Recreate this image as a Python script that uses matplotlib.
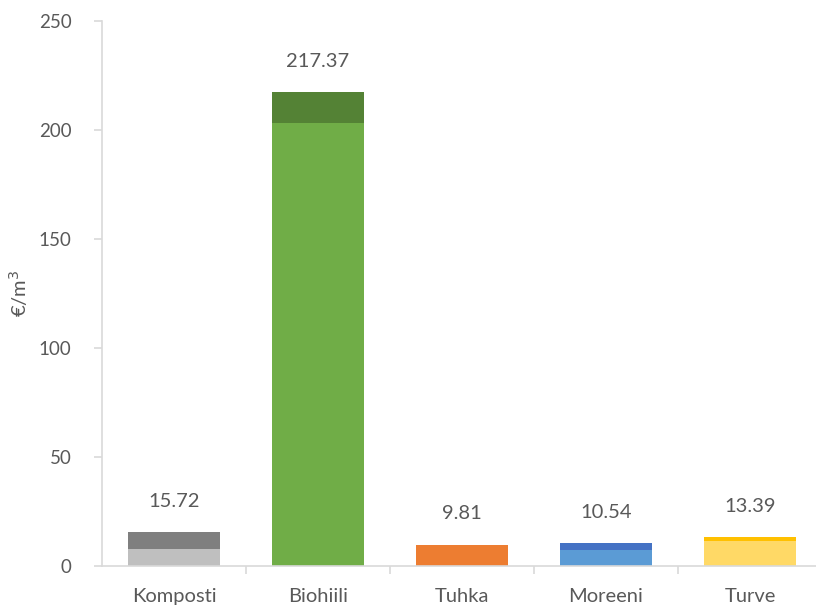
import matplotlib
matplotlib.use("Agg")
import matplotlib.pyplot as plt

categories = ["Komposti", "Biohiili", "Tuhka", "Moreeni", "Turve"]
lower_vals = [7.86, 203.4, 9.81, 7.5, 11.5]
upper_vals = [7.86, 13.97, 0.0, 3.04, 1.89]
totals = ["15.72", "217.37", "9.81", "10.54", "13.39"]
yticks = [0, 50, 100, 150, 200, 250]

lower_colors = ["#BFBFBF", "#70AD47", "#ED7D31", "#5B9BD5", "#FFD966"]
upper_colors = ["#7F7F7F", "#548235", "#ED7D31", "#4472C4", "#FFC000"]

plt.rcParams['font.family'] = ['Lato', 'DejaVu Sans']
txt = "#595959"
grid = "#D9D9D9"

fig = plt.figure(figsize=(8.16, 6.07), dpi=100)
ax = fig.add_axes([102/816, 1-566/607, 720/816, 545/607])

x = list(range(len(categories)))
ax.bar(x, lower_vals, width=0.64, color=lower_colors, edgecolor='none')
ax.bar(x, upper_vals, width=0.64, bottom=lower_vals, color=upper_colors, edgecolor='none')

for i, t in enumerate(totals):
    top = lower_vals[i] + upper_vals[i]
    ax.annotate(t, (i, top), xytext=(0, 16), textcoords='offset points',
                ha='center', va='bottom', fontsize=14.5, color=txt)

ax.set_xlim(-0.5, len(categories) - 0.5)
ax.set_ylim(0, 250)
ax.set_yticks(yticks)
ax.set_yticklabels([str(v) for v in yticks], fontsize=13.5, color=txt)
ax.set_xticks(x)
ax.set_xticklabels(categories, fontsize=14.5, color=txt)
ax.set_xticks([i + 0.5 for i in range(len(categories) - 1)], minor=True)
ax.tick_params(axis='x', which='major', length=0, pad=16)
ax.tick_params(axis='x', which='minor', length=6, color=grid, width=1.2)
ax.tick_params(axis='y', length=6, color=grid, width=1.2, pad=16)

for s in ['top', 'right']:
    ax.spines[s].set_visible(False)
for s in ['left', 'bottom']:
    ax.spines[s].set_color(grid)
    ax.spines[s].set_linewidth(1.2)

ax.set_ylabel("€/m$^3$", fontsize=14.5, color=txt, labelpad=6)

fig.savefig("out.png", dpi=100)
